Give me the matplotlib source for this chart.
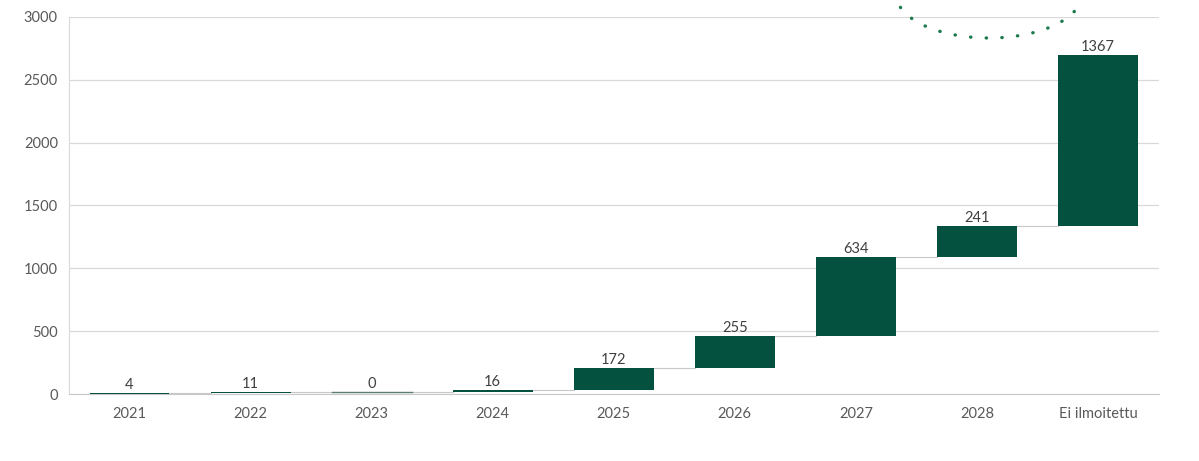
import numpy as np
import matplotlib.pyplot as plt
from matplotlib.patches import Ellipse

categories = ["2021", "2022", "2023", "2024", "2025", "2026", "2027", "2028", "Ei ilmoitettu"]
increments = [4, 11, 0, 16, 172, 255, 634, 241, 1367]
yticks = [0, 500, 1000, 1500, 2000, 2500, 3000]

bar_color = "#05513f"
text_color = "#404040"
grid_color = "#d9d9d9"

plt.rcParams['font.family'] = ['Lato', 'DejaVu Sans']

ends = np.cumsum(increments)
starts = ends - np.array(increments)
x = np.arange(len(categories))
width = 0.66

fig = plt.figure(figsize=(11.99, 4.61), dpi=100)
ax = fig.add_axes([69 / 1199, 1 - 394 / 461, (1158.5 - 69) / 1199, (394 - 17) / 461])

ax.bar(x, increments, bottom=starts, width=width, color=bar_color, zorder=3)

# zero-height bars still show as a thin line
for xi, s, v in zip(x, starts, increments):
    if v == 0:
        ax.plot([xi - width / 2, xi + width / 2], [s, s], color="#5a7d72", linewidth=1.0, zorder=3)

# connectors between bars
for i in range(len(x) - 1):
    ax.plot([x[i] + width / 2, x[i + 1] - width / 2], [ends[i], ends[i]],
            color="#c8c8c8", linewidth=0.8, zorder=2)

for xi, top, v in zip(x, ends, increments):
    ax.text(xi, top + 8, str(v), ha='center', va='bottom', fontsize=10.5, color=text_color)

ax.set_xlim(-0.5, len(categories) - 0.5)
ax.set_ylim(0, 3000)
ax.set_yticks(yticks)
ax.set_xticks(x)
ax.set_xticklabels(categories)
ax.yaxis.grid(True, color=grid_color, linewidth=0.9, zorder=0)
ax.tick_params(axis='both', length=0, labelsize=10.5, labelcolor="#595959")
ax.tick_params(axis='x', pad=9)
ax.tick_params(axis='y', pad=8)
for side in ['top', 'right']:
    ax.spines[side].set_visible(False)
ax.spines['left'].set_color(grid_color)
ax.spines['bottom'].set_color("#c8c8c8")

# dotted highlight ring at top right
ring = Ellipse((989 / 1199, 1 + 6 / 461), 186 / 1199, 88 / 461, angle=180,
               transform=fig.transFigure,
               fill=False, edgecolor="#1b7a4c", linewidth=2.4,
               linestyle=(0, (0.1, 4.6)), capstyle='round', clip_on=False)
fig.add_artist(ring)

fig.savefig("out.png", dpi=100)
